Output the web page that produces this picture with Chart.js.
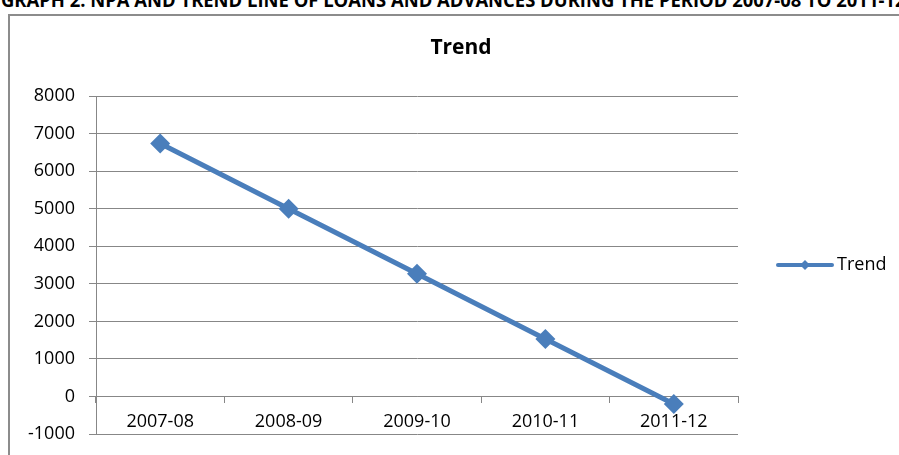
<!DOCTYPE html>
<html>
<head>
<meta charset="utf-8">
<script src="https://cdn.jsdelivr.net/npm/chart.js@4.4.1/dist/chart.umd.min.js"></script>
<style>
  html, body { margin: 0; padding: 0; background: #fff; overflow: hidden; width: 899px; height: 455px; }
  .heading {
    position: absolute; left: 1px; top: -13px; white-space: nowrap; line-height: 26px;
    font: bold 19px 'Open Sans', sans-serif; color: #000;
    transform-origin: 0 0; transform: scaleX(0.97);
  }
  .frame {
    position: absolute; left: 8px; top: 14px; width: 950px; height: 460px;
    border: 2px solid #8c8c8c; box-sizing: border-box; background: #fff;
  }
  .frame canvas { position: absolute; left: 0; top: 0; }
</style>
</head>
<body>
<div class="heading">GRAPH 2: NPA AND TREND LINE OF LOANS AND ADVANCES DURING THE PERIOD 2007-08 TO 2011-12</div>
<div class="frame"><canvas id="trendChart" width="946" height="444"></canvas></div>
<script>
const periods = ['2007-08', '2008-09', '2009-10', '2010-11', '2011-12'];
const trendValues = [6740, 5000, 3270, 1530, -200];
const yTicks = [-1000, 0, 1000, 2000, 3000, 4000, 5000, 6000, 7000, 8000];

const lineColor = '#4A7EBB';
const gridColor = '#878787';
const fontFamily = "'Open Sans', sans-serif";

// legend on the right: short line with a small diamond, then the series name
const sideLegend = {
  id: 'sideLegend',
  afterDraw(chart) {
    const ctx = chart.ctx;
    const y = 249;
    ctx.save();
    ctx.strokeStyle = lineColor;
    ctx.lineWidth = 4;
    ctx.lineCap = 'round';
    ctx.beginPath();
    ctx.moveTo(768, y);
    ctx.lineTo(822, y);
    ctx.stroke();
    ctx.fillStyle = lineColor;
    ctx.beginPath();
    ctx.moveTo(795, y - 5);
    ctx.lineTo(800, y);
    ctx.lineTo(795, y + 5);
    ctx.lineTo(790, y);
    ctx.closePath();
    ctx.fill();
    ctx.fillStyle = '#000';
    ctx.font = '18px ' + fontFamily;
    ctx.textBaseline = 'middle';
    ctx.fillText(chart.data.datasets[0].label, 827, y);
    ctx.restore();
  }
};

new Chart(document.getElementById('trendChart'), {
  type: 'line',
  data: {
    labels: periods,
    datasets: [{
      label: 'Trend',
      data: trendValues,
      borderColor: lineColor,
      backgroundColor: lineColor,
      borderWidth: 5,
      tension: 0,
      pointStyle: 'rectRot',
      pointRadius: 10,
      pointBorderWidth: 0,
      pointBackgroundColor: lineColor
    }]
  },
  options: {
    responsive: false,
    animation: false,
    devicePixelRatio: 1,
    layout: { padding: { left: 0, right: 44, top: 0, bottom: 26 } },
    plugins: {
      legend: { display: false },
      tooltip: { enabled: false },
      title: {
        display: true,
        text: 'Trend',
        color: '#000',
        font: { family: fontFamily, size: 21, weight: 'bold' },
        padding: { top: 19, bottom: 36 }
      }
    },
    scales: {
      x: {
        type: 'category',
        position: { y: 0 },
        offset: true,
        grid: { drawOnChartArea: false, offset: true, tickLength: 6, color: gridColor },
        border: { color: gridColor, width: 1 },
        ticks: { color: '#000', padding: 9, font: { family: fontFamily, size: 18 } }
      },
      y: {
        min: yTicks[0],
        max: yTicks[yTicks.length - 1],
        afterBuildTicks(scale) { scale.ticks = yTicks.map(v => ({ value: v })); },
        afterFit(scale) { scale.width = 86; },
        grid: { color: gridColor, tickLength: 7 },
        border: { color: gridColor, width: 1 },
        ticks: { color: '#000', padding: 14, font: { family: fontFamily, size: 18 }, callback: v => String(v) }
      },
      // empty right-hand axis that reserves room for the legend
      side: {
        position: 'right',
        afterFit(scale) { scale.width = 174; },
        grid: { display: false },
        border: { display: false },
        ticks: { display: false }
      }
    }
  },
  plugins: [sideLegend]
});
</script>
</body>
</html>
